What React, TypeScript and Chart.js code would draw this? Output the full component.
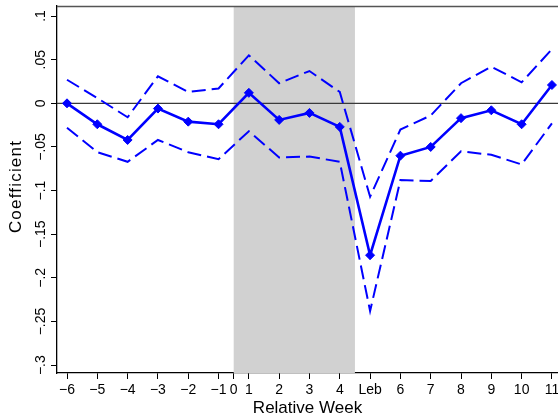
import { useEffect, useRef } from "react";
import { Chart, registerables } from "chart.js";

Chart.register(...registerables);

// Position of each estimate along the axis (week 0 sits between -1 and 1)
const pointPos = [0, 1, 2, 3, 4, 5, 6, 7, 8, 9, 10, 11, 12, 13, 14, 15, 16];
const coef = [0, -0.024, -0.042, -0.006, -0.021, -0.024, 0.012, -0.019, -0.011, -0.027, -0.174, -0.06, -0.05, -0.017, -0.008, -0.024, 0.021];
const upper = [0.027, 0.006, -0.016, 0.031, 0.013, 0.017, 0.055, 0.023, 0.037, 0.013, -0.107, -0.03, -0.014, 0.023, 0.042, 0.024, 0.062];
const lower = [-0.028, -0.056, -0.067, -0.042, -0.056, -0.064, -0.032, -0.062, -0.061, -0.067, -0.238, -0.088, -0.089, -0.055, -0.059, -0.07, -0.023];

const xTickPos = [0, 1, 2, 3, 4, 5, 5.5, 6, 7, 8, 9, 10, 11, 12, 13, 14, 15, 16];
const xTickLabels = ["−6", "−5", "−4", "−3", "−2", "−1", "0", "1", "2", "3", "4", "Leb", "6", "7", "8", "9", "10", "11"];
const yTickVals = [-0.3, -0.25, -0.2, -0.15, -0.1, -0.05, 0, 0.05, 0.1];
const yTickLabels = ["−.3", "−.25", "−.2", "−.15", "−.1", "−.05", "0", ".05", ".1"];
const shadeFrom = 5.5;
const shadeTo = 9.5;

const FONT = "'Liberation Sans', Arial, Helvetica, sans-serif";
const BLUE = "#0000ff";

const decoPlugin = {
  id: "deco",
  beforeDatasetsDraw(chart: any) {
    const { ctx, chartArea: a, scales } = chart;
    const x = scales.x;
    const y = scales.y;
    ctx.save();
    const x0 = x.getPixelForValue(shadeFrom);
    const x1 = x.getPixelForValue(shadeTo);
    ctx.fillStyle = "#d1d1d1";
    ctx.fillRect(x0, a.top, x1 - x0, a.bottom - a.top);
    ctx.strokeStyle = "#3a3a3a";
    ctx.lineWidth = 1.3;
    const y0 = y.getPixelForValue(0);
    ctx.beginPath();
    ctx.moveTo(a.left, y0);
    ctx.lineTo(a.right, y0);
    ctx.stroke();
    ctx.strokeStyle = "#555";
    ctx.beginPath();
    ctx.moveTo(a.left, a.top + 0.5);
    ctx.lineTo(a.right, a.top + 0.5);
    ctx.stroke();
    ctx.restore();
  },
  afterDraw(chart: any) {
    const { ctx, chartArea: a, scales } = chart;
    const y = scales.y;
    ctx.save();
    ctx.fillStyle = "#000";
    ctx.font = `14px ${FONT}`;
    ctx.textAlign = "center";
    ctx.textBaseline = "middle";
    yTickVals.forEach((v, i) => {
      const py = y.getPixelForValue(v);
      ctx.save();
      ctx.translate(41, py);
      ctx.rotate(-Math.PI / 2);
      ctx.fillText(yTickLabels[i], 0, 0);
      ctx.restore();
    });
    ctx.save();
    ctx.font = `17px ${FONT}`;
    try { (ctx as any).letterSpacing = "1.2px"; } catch (e) {}
    ctx.translate(16, (a.top + a.bottom) / 2 - 3);
    ctx.rotate(-Math.PI / 2);
    ctx.fillText("Coefficient", 0, 0);
    ctx.restore();
    ctx.restore();
  },
};

export default function App() {
  const ref = useRef<HTMLCanvasElement | null>(null);
  useEffect(() => {
    if (!ref.current) return;
    const mk = (arr: number[]) => pointPos.map((p, i) => ({ x: p, y: arr[i] }));
    const chart = new Chart(ref.current, {
      type: "line",
      data: {
        datasets: [
          {
            label: "upper",
            data: mk(upper),
            borderColor: BLUE,
            borderWidth: 2,
            borderDash: [14, 6],
            pointRadius: 0,
            fill: false,
            tension: 0,
          },
          {
            label: "lower",
            data: mk(lower),
            borderColor: BLUE,
            borderWidth: 2,
            borderDash: [14, 6],
            pointRadius: 0,
            fill: false,
            tension: 0,
          },
          {
            label: "coef",
            data: mk(coef),
            borderColor: BLUE,
            backgroundColor: BLUE,
            borderWidth: 2.6,
            pointStyle: "rectRot",
            pointRadius: 4.5,
            pointBorderWidth: 1,
            fill: false,
            tension: 0,
          },
        ],
      },
      options: {
        animation: false,
        responsive: false,
        devicePixelRatio: 1,
        layout: { autoPadding: false, padding: { top: 6, left: 0, right: 0, bottom: 0 } },
        plugins: { legend: { display: false }, tooltip: { enabled: false } },
        scales: {
          x: {
            type: "linear",
            min: -0.33,
            max: 16.2,
            afterBuildTicks: (s: any) => {
              s.ticks = xTickPos.map((v) => ({ value: v }));
            },
            afterFit: (s: any) => {
              s.height = 45;
              s.paddingLeft = 0;
              s.paddingRight = 0;
            },
            ticks: {
              autoSkip: false,
              maxRotation: 0,
              minRotation: 0,
              padding: 3,
              color: "#000",
              font: { family: FONT, size: 14 },
              callback: (_v: any, i: number) => xTickLabels[i],
            },
            grid: { drawOnChartArea: false, drawTicks: true, tickLength: 6, color: "#000", lineWidth: 1 },
            border: { display: true, color: "#000", width: 1.3 },
            title: {
              display: true,
              text: "Relative Week",
              color: "#000",
              font: { family: FONT, size: 17 },
              padding: { top: 0, bottom: -1 },
            },
          },
          y: {
            type: "linear",
            min: -0.309,
            max: 0.1115,
            afterBuildTicks: (s: any) => {
              s.ticks = yTickVals.map((v) => ({ value: v }));
            },
            afterFit: (s: any) => {
              s.width = 57;
              s.paddingTop = 0;
              s.paddingBottom = 0;
            },
            ticks: { display: false },
            grid: { drawOnChartArea: false, drawTicks: true, tickLength: 6, color: "#000", lineWidth: 1 },
            border: { display: true, color: "#000", width: 1.3 },
          },
        },
      },
      plugins: [decoPlugin],
    });
    return () => chart.destroy();
  }, []);
  return (
    <div style={{ position: "fixed", left: 0, top: 0, width: 558, height: 418, background: "#fff" }}>
      <canvas ref={ref} width={558} height={418} style={{ display: "block" }} />
    </div>
  );
}
